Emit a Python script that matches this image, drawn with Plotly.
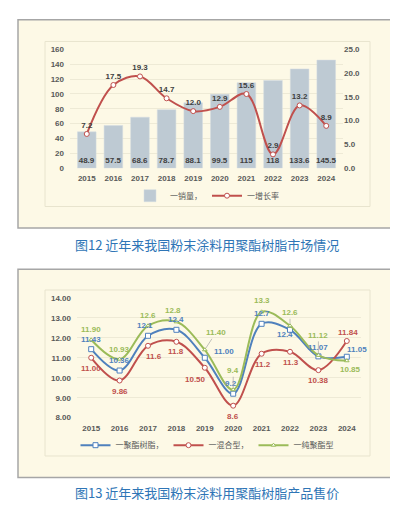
import plotly.graph_objects as go

W, H = 398, 508

# ---- data: chart 1 ----
years = ["2015", "2016", "2017", "2018", "2019", "2020", "2021", "2022", "2023", "2024"]
sales = [48.9, 57.5, 68.6, 78.7, 88.1, 99.5, 115, 118, 133.6, 145.5]
sales_text = ["48.9", "57.5", "68.6", "78.7", "88.1", "99.5", "115", "118", "133.6", "145.5"]
growth = [7.2, 17.5, 19.3, 14.7, 12.0, 12.9, 15.6, 2.9, 13.2, 8.9]

# ---- data: chart 2 ----
resin = [11.43, 10.36, 12.1, 12.4, 11.00, 9.2, 12.7, 12.4, 11.07, 11.05]
resin_text = ["11.43", "10.36", "12.1", "12.4", "11.00", "9.2", "12.7", "12.4", "11.07", "11.05"]
hybrid = [11.00, 9.86, 11.6, 11.8, 10.50, 8.6, 11.2, 11.3, 10.38, 11.84]
hybrid_text = ["11.00", "9.86", "11.6", "11.8", "10.50", "8.6", "11.2", "11.3", "10.38", "11.84"]
pure = [11.90, 10.93, 12.6, 12.8, 11.40, 9.4, 13.3, 12.6, 11.12, 10.85]
pure_text = ["11.90", "10.93", "12.6", "12.8", "11.40", "9.4", "13.3", "12.6", "11.12", "10.85"]

title1 = "图12 近年来我国粉末涂料用聚酯树脂市场情况"
title2 = "图13 近年来我国粉末涂料用聚酯树脂产品售价"

# label placement (pixel offsets dx, dy-up; style only)
resin_off = [(0, 10), (0, 10), (-3, 10), (0, 10), (19, 6), (-2, 10), (0, 10), (-5, -5), (0, 9), (10, 7)]
hybrid_off = [(0, -11), (0, -11), (6, -11), (0, -10), (-9, -12), (0, -11), (1, -11), (1, -11), (0, -10), (1, 8)]
pure_off = [(0, 10), (0, 10), (0, 10), (-3, 11), (11, 17), (0, 19), (0, 11), (0, 13), (0, 20), (4, -9)]
pure_leader = [False, False, False, False, True, True, False, True, True, False]


def px(x):
    return x / W


def py(y):
    return 1 - y / H


CREAM = "#FDF9E6"
GRID = "#EEEAD6"
TICK = "#595959"
NUMF = "Liberation Sans, Arial"
CJK = "Noto Sans CJK SC"
BLUE = "#4F81BD"
RED = "#C0504D"
GREEN = "#9BBB59"

fig = go.Figure()

fig.add_trace(go.Bar(
    x=years, y=sales, name="一销量，", text=sales_text,
    textposition="inside", insidetextanchor="start", constraintext="none", textangle=0,
    textfont=dict(family=NUMF, size=8, color="#404040", weight="bold"),
    marker=dict(color="#BECAD3", line=dict(color="#D5DDE2", width=0.5)),
    xaxis="x", yaxis="y", legend="legend",
))
fig.add_trace(go.Scatter(
    x=years, y=growth, name="一增长率", mode="lines+markers+text",
    text=[f"{v:.1f}" for v in growth], textposition="top center", cliponaxis=False,
    textfont=dict(family=NUMF, size=8, color="#404040", weight="bold"),
    line=dict(color=RED, width=2, shape="spline", smoothing=1.0),
    marker=dict(symbol="circle", size=5, color="white", line=dict(color=RED, width=1)),
    xaxis="x", yaxis="y2", legend="legend",
))

series = [
    ("一聚酯树脂，", resin, resin_text, BLUE, "square", 5, resin_off, [False] * 10),
    ("一混合型，", hybrid, hybrid_text, RED, "circle", 5, hybrid_off, [False] * 10),
    ("一纯聚酯型", pure, pure_text, GREEN, "triangle-up", 4, pure_off, pure_leader),
]

annotations = []
for name, vals, txt, col, sym, sz, offs, leads in series:
    fig.add_trace(go.Scatter(
        x=years, y=vals, name=name, mode="lines+markers", cliponaxis=False,
        line=dict(color=col, width=2, shape="spline", smoothing=1.0),
        marker=dict(symbol=sym, size=sz, color="white", line=dict(color=col, width=1)),
        xaxis="x2", yaxis="y3", legend="legend2",
    ))
    for i, (v, t, (dx, dy), lead) in enumerate(zip(vals, txt, offs, leads)):
        a = dict(x=i, y=v, xref="x2", yref="y3", text=t,
                 font=dict(family=NUMF, size=8, color=col, weight="bold"))
        if lead:
            a.update(showarrow=True, ax=dx, ay=-dy, arrowhead=0, arrowwidth=0.7,
                     arrowcolor="#A6A6A6", standoff=2, startstandoff=0)
        else:
            a.update(showarrow=False, xshift=dx, yshift=dy, xanchor="center", yanchor="middle")
        annotations.append(a)

shapes = []
for (x0, y0, x1, y1) in [(10, 8, 390, 220), (10, 262, 390, 474)]:
    shapes.append(dict(type="rect", xref="paper", yref="paper", layer="below",
                       x0=px(x0), x1=px(x1), y0=py(y1), y1=py(y0),
                       fillcolor=CREAM, line=dict(color="#A6A6A6", width=1.5)))
for (x0, y0, x1, y1) in [(37, 30, 362, 198), (37, 283, 362, 452)]:
    shapes.append(dict(type="rect", xref="paper", yref="paper", layer="below",
                       x0=px(x0), x1=px(x1), y0=py(y1), y1=py(y0),
                       fillcolor=CREAM, line=dict(color="#E8E4CE", width=1)))

annotations += [
    dict(text=title1, xref="paper", yref="paper", x=0.5, y=py(237), xanchor="center", yanchor="middle",
         showarrow=False, font=dict(family=CJK, size=13, color="#2E75B6")),
    dict(text=title2, xref="paper", yref="paper", x=0.5, y=py(489), xanchor="center", yanchor="middle",
         showarrow=False, font=dict(family=CJK, size=13, color="#2E75B6")),
]

axis_common = dict(showline=False, zeroline=False, ticks="",
                   tickfont=dict(family=NUMF, size=8, color=TICK, weight="bold"))

fig.update_layout(
    width=W, height=H, margin=dict(l=0, r=0, t=0, b=0),
    paper_bgcolor="white", plot_bgcolor="rgba(0,0,0,0)",
    shapes=shapes, annotations=annotations, bargap=0.3,
    xaxis=dict(axis_common, domain=[px(62), px(335)], anchor="y", type="category",
               showgrid=False, ticklabelstandoff=4),
    yaxis=dict(axis_common, domain=[py(159), py(38)], range=[0, 160], dtick=20,
               showgrid=True, gridcolor=GRID, gridwidth=1, anchor="x", ticklabelstandoff=5),
    yaxis2=dict(axis_common, domain=[py(159), py(38)], range=[0, 25], dtick=5, tickformat=".1f",
                overlaying="y", side="right", showgrid=False, anchor="x", ticklabelstandoff=0),
    xaxis2=dict(axis_common, domain=[px(69), px(353)], anchor="y3", type="category",
                categoryorder="array", categoryarray=years, range=[-0.5, len(years) - 0.5],
                showgrid=False, ticklabelstandoff=4),
    yaxis3=dict(axis_common, domain=[py(413), py(291)], range=[8, 14], dtick=1, tickformat=".2f",
                showgrid=True, gridcolor=GRID, gridwidth=1, anchor="x2", ticklabelstandoff=5),
    legend=dict(orientation="h", x=0.5, y=py(187), xanchor="center", yanchor="middle",
                bgcolor="rgba(0,0,0,0)", font=dict(family=CJK, size=8, color=TICK),
                itemwidth=30, tracegroupgap=0),
    legend2=dict(orientation="h", x=0.5, y=py(441), xanchor="center", yanchor="middle",
                 bgcolor="rgba(0,0,0,0)", font=dict(family=CJK, size=8, color=TICK),
                 itemwidth=30, tracegroupgap=0),
    showlegend=True,
)

fig.write_html("out.html")
